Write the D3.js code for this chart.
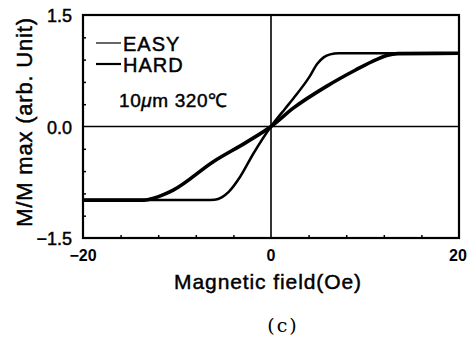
<!DOCTYPE html>
<html><head><meta charset="utf-8">
<script src="https://cdn.jsdelivr.net/npm/d3@7"></script>
<style>html,body{margin:0;padding:0;background:#fff;}svg{display:block;}</style>
</head><body>
<svg id="c" width="468" height="338"></svg>
<script>
const xTicks = [-20, 0, 20];
const yTicks = [-1.5, 0.0, 1.5];
const xMinor = [-16, -12, -8, -4, 4, 8, 12, 16];
const yMinor = [-1.2, -0.9, -0.6, -0.3, 0.3, 0.6, 0.9, 1.2];
const seriesNames = ["EASY", "HARD"];
const easyH = [-20, -7, -6, -5.2, -4.5, -3.3, -1.9, 0, 1.5, 2.4, 4.1, 4.9, 5.6, 6.3, 7.2, 20];
const easyM = [-0.99, -0.99, -0.985, -0.95, -0.88, -0.68, -0.37, 0, 0.24, 0.38, 0.67, 0.84, 0.93, 0.97, 0.985, 0.985];
const hardH = [-20, -13.5, -12.5, -11.5, -10.4, -6.1, -2.6, 0, 2.4, 5.9, 9, 11.2, 12.3, 13.5, 20];
const hardM = [-0.99, -0.99, -0.965, -0.92, -0.855, -0.47, -0.21, 0, 0.25, 0.54, 0.76, 0.9, 0.955, 0.98, 0.985];

const svg = d3.select("#c");
const L = 83, R = 459, T = 15, B = 238;
const x = d3.scaleLinear().domain([-20, 20]).range([L, R]);
const y = d3.scaleLinear().domain([-1.5, 1.5]).range([B, T]);
const font = "'Liberation Sans', Arial, sans-serif";
function txt(sel, size, ls) {
  return sel.attr("font-family", font).attr("font-size", size)
    .attr("letter-spacing", ls || 0).attr("fill", "#000")
    .attr("stroke", "#000").attr("stroke-width", 0.45);
}

// zero lines
svg.append("line").attr("x1", L).attr("x2", R).attr("y1", y(0)).attr("y2", y(0))
  .attr("stroke", "#000").attr("stroke-width", 1.6);
svg.append("line").attr("x1", x(0)).attr("x2", x(0)).attr("y1", T).attr("y2", B)
  .attr("stroke", "#000").attr("stroke-width", 1.6);

// minor inward ticks
const gx = svg.append("g").attr("transform", `translate(0,${B})`)
  .call(d3.axisTop(x).tickValues(xMinor).tickSize(3).tickFormat(""));
const gy = svg.append("g").attr("transform", `translate(${L},0)`)
  .call(d3.axisRight(y).tickValues(yMinor).tickSize(3).tickFormat(""));
[gx, gy].forEach(g => { g.select(".domain").remove(); g.selectAll("line").attr("stroke", "#000").attr("stroke-width", 1.5); });

// frame
svg.append("rect").attr("x", L).attr("y", T).attr("width", R - L).attr("height", B - T)
  .attr("fill", "none").attr("stroke", "#000").attr("stroke-width", 2.2);

// curves
const line = d3.line().x(d => x(d[0])).y(d => y(d[1])).curve(d3.curveMonotoneX);
const easy = easyH.map((h, i) => [h, easyM[i]]);
const hard = hardH.map((h, i) => [h, hardM[i]]);
svg.append("path").attr("d", line(easy)).attr("fill", "none").attr("stroke", "#000").attr("stroke-width", 2.5);
svg.append("path").attr("d", line(hard)).attr("fill", "none").attr("stroke", "#000").attr("stroke-width", 3.6);

// tick labels
svg.selectAll(".xl").data(xTicks).enter().append("text")
  .attr("x", d => x(d) + (d === 20 ? -1 : 0)).attr("y", 261).attr("text-anchor", "middle")
  .call(s => txt(s, 16, 0)).attr("font-weight", "bold").attr("stroke-width", 0)
  .text(d => d < 0 ? "\u2212" + Math.abs(d) : d);
svg.selectAll(".yl").data(yTicks).enter().append("text")
  .attr("x", 72).attr("y", d => y(d) + 7).attr("text-anchor", "end")
  .call(s => txt(s, 18, 0))
  .text(d => (d < 0 ? "\u2212" : "") + Math.abs(d).toFixed(1));

// legend
const legY = [43, 64];
seriesNames.forEach((n, i) => {
  svg.append("line").attr("x1", 96).attr("x2", 121).attr("y1", legY[i]).attr("y2", legY[i])
    .attr("stroke", "#000").attr("stroke-width", i === 0 ? 1.2 : 2.2);
  svg.append("text").attr("x", 123).attr("y", legY[i] + 7.5).call(s => txt(s, 20, 1)).text(n);
});
const note = svg.append("text").attr("x", 119).attr("y", 107).call(s => txt(s, 19, 0.6));
note.append("tspan").text("10");
note.append("tspan").attr("font-style", "italic").text("\u03bc");
note.append("tspan").text("m 320\u2103");

// axis titles
svg.append("text").attr("x", 268).attr("y", 289).attr("text-anchor", "middle")
  .call(s => txt(s, 21, 0.9)).text("Magnetic field(Oe)");
svg.append("text").attr("transform", "translate(32,122) rotate(-90)").attr("text-anchor", "middle")
  .call(s => txt(s, 22, 0.8)).text("M/M max (arb. Unit)");
svg.append("text").attr("x", 283).attr("y", 332).attr("text-anchor", "middle")
  .attr("font-family", "'DejaVu Serif', 'Liberation Serif', serif").attr("font-size", 19)
  .attr("letter-spacing", 2).text("(c)");
</script>
</body></html>
